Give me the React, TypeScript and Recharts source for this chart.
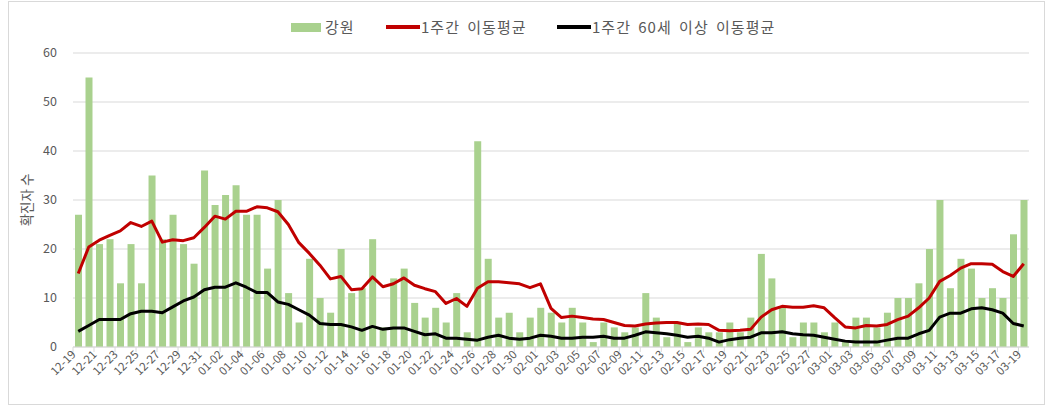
import React from 'react';
import { ComposedChart, Bar, Line, XAxis, YAxis, CartesianGrid } from 'recharts';

const dates = [
  '12-19', '12-20', '12-21', '12-22', '12-23', '12-24', '12-25', '12-26', '12-27', '12-28', '12-29', '12-30', '12-31',
  '01-01', '01-02', '01-03', '01-04', '01-05', '01-06', '01-07', '01-08', '01-09', '01-10', '01-11', '01-12', '01-13',
  '01-14', '01-15', '01-16', '01-17', '01-18', '01-19', '01-20', '01-21', '01-22', '01-23', '01-24', '01-25', '01-26',
  '01-27', '01-28', '01-29', '01-30', '01-31',
  '02-01', '02-02', '02-03', '02-04', '02-05', '02-06', '02-07', '02-08', '02-09', '02-10', '02-11', '02-12', '02-13',
  '02-14', '02-15', '02-16', '02-17', '02-18', '02-19', '02-20', '02-21', '02-22', '02-23', '02-24', '02-25', '02-26',
  '02-27', '02-28',
  '03-01', '03-02', '03-03', '03-04', '03-05', '03-06', '03-07', '03-08', '03-09', '03-10', '03-11', '03-12', '03-13',
  '03-14', '03-15', '03-16', '03-17', '03-18', '03-19',
];

const cases = [
  27, 55, 21, 22, 13, 21, 13, 35, 22, 27, 21, 17, 36,
  29, 31, 33, 27, 27, 16, 30, 11, 5, 18, 10, 7, 20,
  11, 12, 22, 4, 14, 16, 9, 6, 8, 5, 11, 3, 42,
  18, 6, 7, 3, 6,
  8, 7, 5, 8, 5, 1, 5, 4, 3, 4, 11, 6, 2,
  5, 1, 4, 3, 3, 5, 3, 6, 19, 14, 8, 2, 5,
  5, 3,
  5, 1, 6, 6, 4, 7, 10, 10, 13, 20, 30, 12, 18,
  16, 10, 12, 10, 23, 30,
];

const avg7 = [
  15.0, 20.4, 21.8, 22.8, 23.7, 25.4, 24.6, 25.7, 21.4, 21.9, 21.7, 22.3, 24.4,
  26.7, 26.1, 27.7, 27.7, 28.6, 28.4, 27.6, 25.0, 21.3, 19.1, 16.7, 13.9, 14.4,
  11.7, 11.9, 14.3, 12.3, 12.9, 14.1, 12.6, 11.9, 11.3, 8.9, 9.9, 8.3, 12.0,
  13.3, 13.3, 13.1, 12.9, 12.1,
  12.9, 7.9, 6.0, 6.3, 6.0, 5.7, 5.6, 5.0, 4.4, 4.3, 4.7, 4.9, 5.0,
  5.0, 4.6, 4.7, 4.6, 3.4, 3.3, 3.4, 3.6, 6.1, 7.6, 8.3, 8.1, 8.1,
  8.4, 8.0,
  6.0, 4.1, 3.9, 4.4, 4.3, 4.6, 5.6, 6.3, 8.0, 10.0, 13.4, 14.6, 16.1,
  17.0, 17.0, 16.9, 15.4, 14.4, 17.0,
];

const avg7Over60 = [
  3.2, 4.4, 5.6, 5.6, 5.6, 6.8, 7.3, 7.3, 7.0, 8.2, 9.4, 10.2, 11.7,
  12.2, 12.2, 13.1, 12.2, 11.1, 11.1, 9.2, 8.7, 7.6, 6.5, 4.8, 4.6, 4.6,
  4.1, 3.4, 4.2, 3.6, 3.9, 3.9, 3.2, 2.5, 2.7, 1.8, 1.8, 1.6, 1.4,
  2.0, 2.4, 1.8, 1.6, 1.8,
  2.4, 2.2, 1.8, 1.8, 2.0, 2.0, 2.2, 1.8, 1.8, 2.4, 3.1, 2.9, 2.7,
  2.4, 2.0, 2.2, 1.8, 1.0, 1.5, 1.8, 2.0, 2.9, 2.9, 3.1, 2.7, 2.5,
  2.4, 2.0,
  1.6, 1.2, 1.0, 1.0, 1.0, 1.4, 1.8, 1.8, 2.7, 3.4, 6.1, 6.9, 6.9,
  7.8, 8.0, 7.6, 6.9, 4.8, 4.3,
];

const yTicks = [0, 10, 20, 30, 40, 50, 60];

const seriesNames = ['강원', '1주간 이동평균', '1주간 60세 이상 이동평균'];
const yTitle = '확진자 수';

const data = dates.map((d, i) => ({
  date: d,
  cases: cases[i],
  avg: avg7[i],
  avg60: avg7Over60[i],
}));

const W = 1053;
const H = 410;
const PLOT_LEFT = 73;
const PLOT_RIGHT = 1029;
const BAND = (PLOT_RIGHT - PLOT_LEFT) / dates.length;

const GREEN = '#a9d18e';
const RED = '#c00000';
const BLACK = '#000000';
const GRID = '#d9d9d9';
const TEXT = '#595959';
const FONT = '"Noto Sans CJK KR", "Noto Sans", sans-serif';

function XTick(props: any) {
  const { x, y, payload } = props;
  const bx = x - BAND / 2;
  const tx = x - 4;
  const ty = y + 6;
  return (
    <g>
      <line x1={bx} x2={bx} y1={y} y2={y + 5} stroke={GRID} strokeWidth={1} />
      <text
        x={tx}
        y={ty}
        transform={`rotate(-45 ${tx} ${ty})`}
        textAnchor="end"
        dominantBaseline="middle"
        fontSize={11.5}
        fill={TEXT}
        fontFamily={FONT}
      >
        {payload.value}
      </text>
    </g>
  );
}

const legendItems = [
  { swatchLeft: 291, swatchW: 30, swatchH: 9, color: GREEN, textLeft: 325, label: seriesNames[0] },
  { swatchLeft: 386, swatchW: 34, swatchH: 4, color: RED, textLeft: 421, label: seriesNames[1] },
  { swatchLeft: 557, swatchW: 34, swatchH: 4, color: BLACK, textLeft: 592, label: seriesNames[2] },
];

function LegendRow() {
  const cy = 27;
  return (
    <>
      {legendItems.map((it) => (
        <React.Fragment key={it.label}>
          <div
            style={{
              position: 'absolute',
              left: it.swatchLeft,
              top: cy - it.swatchH / 2,
              width: it.swatchW,
              height: it.swatchH,
              background: it.color,
            }}
          />
          <div
            style={{
              position: 'absolute',
              left: it.textLeft,
              top: cy - 11,
              height: 22,
              lineHeight: '22px',
              fontSize: 15,
              letterSpacing: 1,
              wordSpacing: 3,
              color: TEXT,
              fontFamily: FONT,
              whiteSpace: 'nowrap',
            }}
          >
            {it.label}
          </div>
        </React.Fragment>
      ))}
    </>
  );
}

function YTitleOverlay() {
  const cx = 28;
  const cy = 200;
  return (
    <svg width={60} height={H} style={{ position: 'absolute', left: 0, top: 0, pointerEvents: 'none' }}>
      <text
        x={cx}
        y={cy}
        transform={`rotate(-90 ${cx} ${cy})`}
        textAnchor="middle"
        dominantBaseline="middle"
        fontSize={13.5}
        fill={TEXT}
        fontFamily={FONT}
      >
        {yTitle}
      </text>
    </svg>
  );
}

export default function App() {
  return (
    <div style={{ position: 'absolute', left: 0, top: 0, width: W, height: H, background: '#fff' }}>
      <div
        style={{
          position: 'absolute',
          left: 8,
          top: 1,
          width: 1037,
          height: 404,
          border: `1px solid ${GRID}`,
          boxSizing: 'border-box',
        }}
      />
      <ComposedChart
        width={W}
        height={H}
        data={data}
        margin={{ top: 53, right: W - PLOT_RIGHT, left: 0, bottom: 18 }}
        style={{ position: 'absolute', left: 0, top: 0 }}
      >
        <CartesianGrid vertical={false} stroke={GRID} strokeWidth={1} />
        <XAxis
          dataKey="date"
          interval={1}
          height={45}
          tickSize={0}
          tickMargin={0}
          tickLine={false}
          axisLine={{ stroke: GRID }}
          tick={<XTick />}
        />
        <YAxis
          width={PLOT_LEFT}
          domain={[0, 60]}
          ticks={yTicks}
          tickSize={0}
          tickMargin={16}
          tickLine={false}
          axisLine={false}
          tick={{ fontSize: 12.5, fill: TEXT, fontFamily: FONT }}
        />
        <Bar dataKey="cases" fill={GREEN} barSize={7} isAnimationActive={false} />
        <Line
          dataKey="avg"
          type="linear"
          stroke={RED}
          strokeWidth={3}
          dot={false}
          strokeLinejoin="round"
          isAnimationActive={false}
        />
        <Line
          dataKey="avg60"
          type="linear"
          stroke={BLACK}
          strokeWidth={3}
          dot={false}
          strokeLinejoin="round"
          isAnimationActive={false}
        />
      </ComposedChart>
      <YTitleOverlay />
      <LegendRow />
    </div>
  );
}
